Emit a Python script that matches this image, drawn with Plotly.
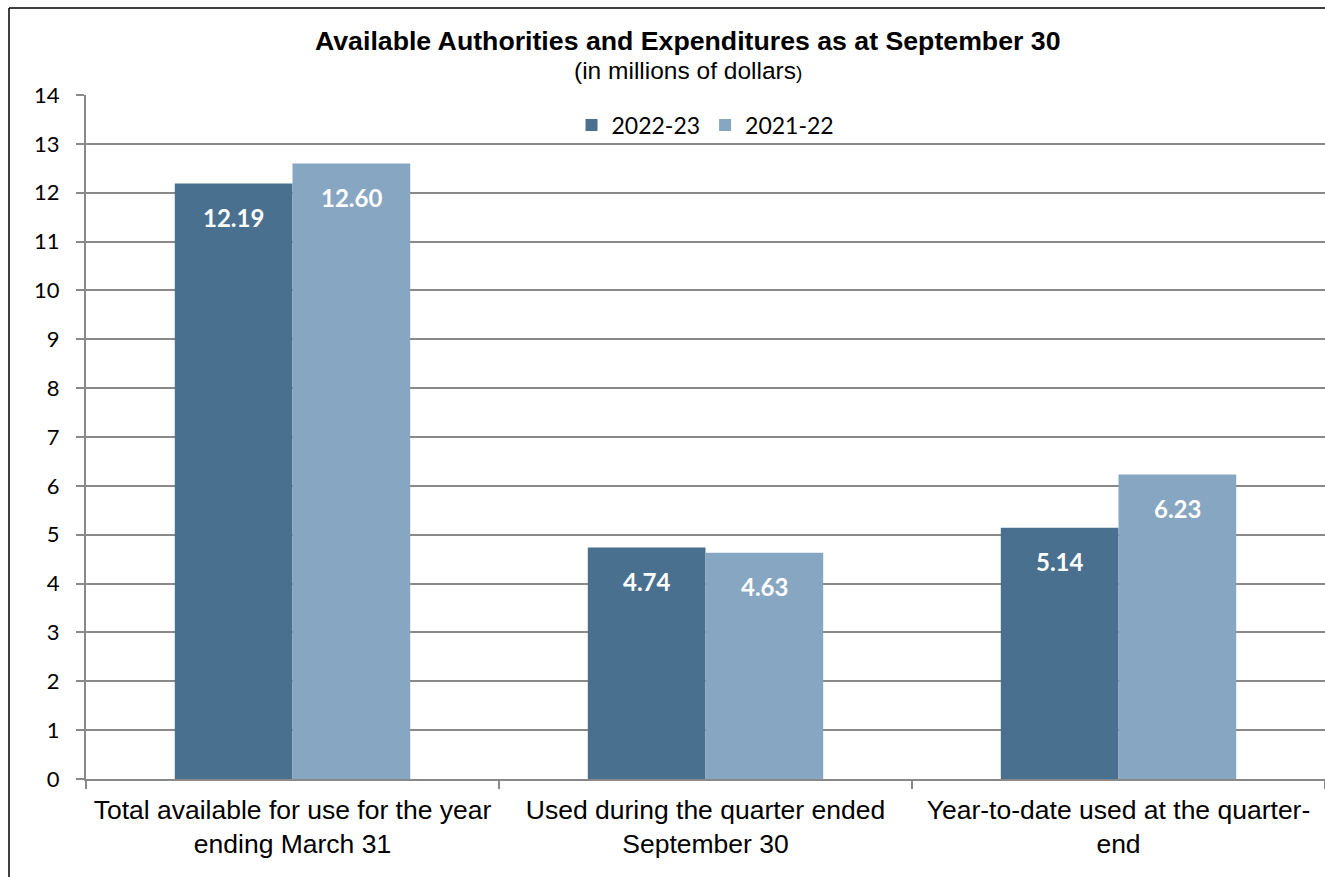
import plotly.graph_objects as go

categories = ["Total available for use for the year<br>ending March 31",
              "Used during the quarter ended<br>September 30",
              "Year-to-date used at the quarter-<br>end"]
series_names = ["2022-23", "2021-22"]
values_2022_23 = [12.19, 4.74, 5.14]
values_2021_22 = [12.60, 4.63, 6.23]
y_ticks = list(range(0, 15))

colors = ["#4A7090", "#87A6C2"]

W, H = 1325, 877
ML, MR, MT, MB = 86, 0, 95, 98
PW = W - ML - MR
PH = H - MT - MB
BARGAP = 0.43
cat_px = PW / len(categories)
bar_px = cat_px * (1 - BARGAP) / 2

fig = go.Figure()
for name, vals, col in zip(series_names, [values_2022_23, values_2021_22], colors):
    fig.add_trace(go.Bar(x=categories, y=vals, name=name, marker=dict(color=col, line=dict(width=0)),
                         hoverinfo="skip"))

annotations = []
for i, vals in enumerate([values_2022_23, values_2021_22]):
    shift = (-0.5 + i) * bar_px
    for c, v in zip(categories, vals):
        annotations.append(dict(x=c, y=v, xref="x", yref="y", text=f"<b>{v:.2f}</b>",
                                showarrow=False, xshift=shift, yshift=-34,
                                font=dict(family="Lato", size=24, color="white")))

def px_to_paper_x(px):
    return (px - ML) / PW

def px_to_paper_y(py):
    return (H - MB - py) / PH

annotations.append(dict(xref="paper", yref="paper", x=px_to_paper_x(688), y=px_to_paper_y(41),
                        text="<b>Available Authorities and Expenditures as at September 30</b>",
                        showarrow=False, xanchor="center", yanchor="middle",
                        font=dict(family="Liberation Sans", size=26.7, color="black")))
annotations.append(dict(xref="paper", yref="paper", x=px_to_paper_x(688), y=px_to_paper_y(70),
                        text="(in millions of dollars<span style='font-size:19px'>)</span>",
                        showarrow=False, xanchor="center", yanchor="middle",
                        font=dict(family="Liberation Sans", size=24.5, color="black")))

border = dict(color="black", width=1.5)
fig.update_layout(
    width=W, height=H,
    margin=dict(l=ML, r=MR, t=MT, b=MB, pad=0),
    paper_bgcolor="white", plot_bgcolor="white",
    barmode="group", bargap=BARGAP, bargroupgap=0,
    showlegend=True,
    legend=dict(orientation="h", x=0.5, xanchor="center", y=px_to_paper_y(125), yanchor="middle",
                font=dict(family="Lato", size=23, color="black"), bgcolor="rgba(0,0,0,0)",
                itemsizing="constant", traceorder="normal"),
    annotations=annotations,
    shapes=[dict(type="line", xref="paper", yref="paper",
                 x0=px_to_paper_x(9), y0=px_to_paper_y(8), x1=1.0, y1=px_to_paper_y(8),
                 line=border, layer="below"),
            dict(type="line", xref="paper", yref="paper",
                 x0=px_to_paper_x(9), y0=px_to_paper_y(8), x1=px_to_paper_x(9), y1=px_to_paper_y(H),
                 line=border, layer="below")],
    xaxis=dict(type="category", showline=True, linecolor="#898989", linewidth=2,
               ticks="outside", tickson="boundaries", ticklen=8, tickcolor="#898989", tickwidth=2,
               tickfont=dict(family="Liberation Sans", size=26.5, color="black"), ticklabelstandoff=6,
               showgrid=False, zeroline=False, fixedrange=True),
    yaxis=dict(range=[0, 14], tickvals=y_ticks, showline=True, linecolor="#898989", linewidth=2,
               ticks="outside", ticklen=8, tickcolor="#898989", tickwidth=2,
               showgrid=True, gridcolor="#898989", gridwidth=2, zeroline=False,
               tickfont=dict(family="Lato", size=22, color="black"), ticklabelstandoff=12,
               fixedrange=True),
)

fig.write_html("out.html", config={"displayModeBar": False},
               post_script="document.body.style.margin='0';document.body.style.overflow='hidden';")
